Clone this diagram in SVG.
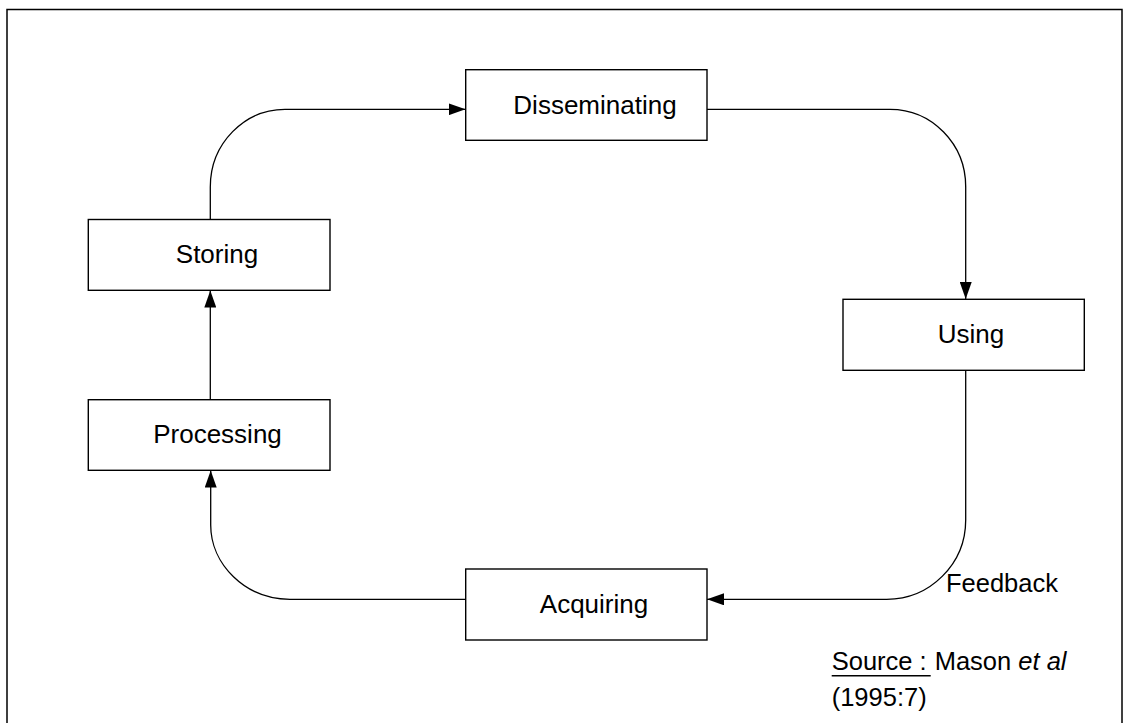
<svg xmlns="http://www.w3.org/2000/svg" width="1131" height="723" viewBox="0 0 1131 723">
  <style>
    .box { fill: #ffffff; stroke: #000000; stroke-width: 1.4; }
    .lbl { font-family: "Liberation Sans", Arial, sans-serif; font-size: 26px; fill: #000000; text-anchor: middle; }
    .note { font-family: "Liberation Sans", Arial, sans-serif; font-size: 25.5px; fill: #000000; }
    .flow { fill: none; stroke: #000000; stroke-width: 1.3; marker-end: url(#arrow); }
  </style>
  <defs>
    <marker id="arrow" markerUnits="userSpaceOnUse" markerWidth="18" markerHeight="12" refX="17" refY="6" orient="auto">
      <path d="M0,0 L17,6 L0,12 Z" fill="#000000"/>
    </marker>
  </defs>

  <rect x="0" y="0" width="1131" height="723" fill="#ffffff"/>
  <!-- outer frame -->
  <rect x="7" y="9.5" width="1115" height="730" fill="none" stroke="#000000" stroke-width="1.5"/>

  <!-- connectors -->
  <g id="connectors">
    <path class="flow" d="M210.3,219.5 V187 C210.3,143 245,109.3 285,109.3 H465.5"/>
    <path class="flow" d="M707,109.3 H890 C932,109.3 965.7,144 965.7,186.7 V299"/>
    <path class="flow" d="M965.7,370.3 V520 C965.7,564 930,599.3 886.7,599.3 H707"/>
    <path class="flow" d="M465.7,599.3 H290 C245,599.3 210.7,564 210.7,525 V470.5"/>
    <path class="flow" d="M210.3,400 V290.5"/>
  </g>

  <g id="disseminating">
    <rect class="box" x="465.7" y="69.7" width="241.3" height="70.6"/>
    <text class="lbl" x="595" y="114">Disseminating</text>
  </g>
  <g id="using">
    <rect class="box" x="843" y="299.3" width="241.3" height="71"/>
    <text class="lbl" x="971" y="343">Using</text>
  </g>
  <g id="acquiring">
    <rect class="box" x="465.7" y="569" width="241.3" height="71"/>
    <text class="lbl" x="594" y="612.7">Acquiring</text>
  </g>
  <g id="processing">
    <rect class="box" x="88.3" y="399.7" width="241.7" height="70.6"/>
    <text class="lbl" x="217.5" y="442.7">Processing</text>
  </g>
  <g id="storing">
    <rect class="box" x="88.3" y="219.5" width="241.7" height="70.8"/>
    <text class="lbl" x="217" y="263">Storing</text>
  </g>

  <text class="note" x="946" y="591.7">Feedback</text>

  <g id="source">
    <text class="note" x="831.7" y="670">Source :<tspan dx="8">Mason </tspan><tspan font-style="italic">et al</tspan></text>
    <line x1="831.7" y1="675.7" x2="930.7" y2="675.7" stroke="#000000" stroke-width="1.5"/>
    <text class="note" x="831.7" y="706">(1995:7)</text>
  </g>
</svg>
